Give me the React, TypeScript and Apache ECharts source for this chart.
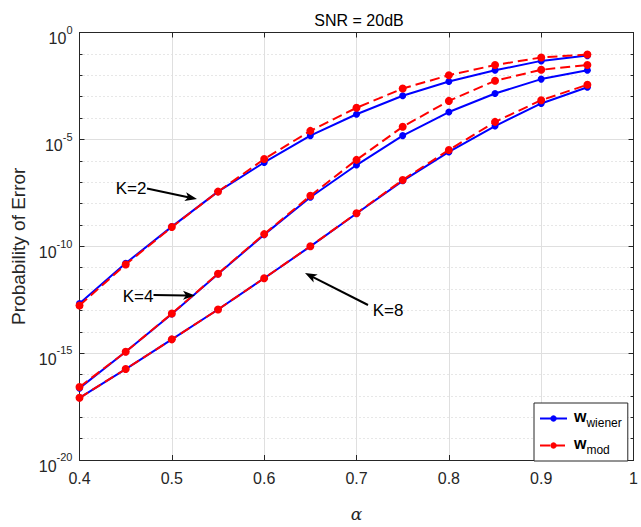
import React, { useEffect, useRef } from 'react';
import * as echarts from 'echarts';

// alpha values (x)
const alpha = [0.4, 0.45, 0.5, 0.55, 0.6, 0.65, 0.7, 0.75, 0.8, 0.85, 0.9, 0.95];
// Probability of error values
const k2Wiener = [2.1e-13, 1.6e-11, 8.3e-10, 3.6e-8, 8.3e-7, 1.5e-5, 1.5e-4, 1.1e-3, 5.1e-3, 1.7e-2, 4.7e-2, 8.3e-2];
const k2Mod = [1.7e-13, 1.4e-11, 7.9e-10, 3.6e-8, 1.2e-6, 2.5e-5, 3.0e-4, 2.4e-3, 1.0e-2, 3.0e-2, 6.8e-2, 9.3e-2];
const k4Wiener = [2.3e-17, 1.15e-15, 6.8e-14, 5.0e-12, 3.5e-10, 1.95e-8, 6.3e-7, 1.5e-5, 1.9e-4, 1.4e-3, 6.6e-3, 1.7e-2];
const k4Mod = [2.6e-17, 1.15e-15, 7.1e-14, 5.2e-12, 3.7e-10, 2.3e-8, 1.1e-6, 3.9e-5, 6.3e-4, 5.5e-3, 1.8e-2, 3.0e-2];
const k8Wiener = [8.1e-18, 1.8e-16, 4.4e-15, 1.1e-13, 3.2e-12, 9.8e-11, 3.4e-9, 1.15e-7, 2.6e-6, 4.2e-5, 4.8e-4, 2.75e-3];
const k8Mod = [8.1e-18, 1.8e-16, 4.4e-15, 1.1e-13, 3.2e-12, 1.0e-10, 3.5e-9, 1.26e-7, 3.2e-6, 6.6e-5, 6.8e-4, 3.6e-3];
// axis ticks
const xTicks = [0.4, 0.5, 0.6, 0.7, 0.8, 0.9, 1];
const yTickExponents = [-20, -15, -10, -5, 0];
const titleText = 'SNR = 20dB';
const yTitle = 'Probability of Error';
const xTitle = 'α';
const legendNames = ['wiener', 'mod'];
const annotations = ['K=2', 'K=4', 'K=8'];

const FONT = '"Liberation Sans", Arial, Helvetica, sans-serif';
const BLUE = '#0000ff';
const RED = '#ff0000';

function arrow(x1: number, y1: number, x2: number, y2: number) {
  const dx = x2 - x1, dy = y2 - y1;
  const len = Math.hypot(dx, dy);
  const ux = dx / len, uy = dy / len;
  const px = -uy, py = ux;
  const L = 12, W = 4.5, N = 3;
  const bx = x2 - ux * L, by = y2 - uy * L;
  const nx = x2 - ux * (L - N), ny = y2 - uy * (L - N);
  return [
    { type: 'line', shape: { x1, y1, x2: nx, y2: ny }, style: { stroke: '#000', lineWidth: 2 }, z: 100 },
    {
      type: 'polygon',
      shape: { points: [[x2, y2], [bx + px * W, by + py * W], [nx, ny], [bx - px * W, by - py * W]] },
      style: { fill: '#000' },
      z: 100,
    },
  ];
}

function toPoints(vals: number[]) {
  return alpha.map((a, i) => [a, Math.log10(vals[i])]);
}

export default function App() {
  const ref = useRef<HTMLDivElement>(null);
  useEffect(() => {
    if (!ref.current) return;
    const chart = echarts.init(ref.current, undefined, { renderer: 'svg' });
    const xMin = xTicks[0];
    const xMax = xTicks[xTicks.length - 1];
    const yMin = yTickExponents[0];
    const yMax = yTickExponents[yTickExponents.length - 1];
    const yStep = yTickExponents[1] - yTickExponents[0];

    const lineSeries = (name: string, vals: number[], color: string, dashed: boolean) => ({
      type: 'line',
      name,
      data: toPoints(vals),
      symbol: 'circle',
      symbolSize: dashed ? 8 : 7,
      itemStyle: { color },
      lineStyle: { color, width: 2, type: dashed ? [10, 5] : 'solid' },
      z: dashed ? 3 : 2,
    });

    const axisLineStyle = { color: '#262626', width: 1 };

    chart.setOption({
      animation: false,
      backgroundColor: '#fff',
      grid: { left: 79.5, right: 3, top: 32.5, bottom: 54, containLabel: false },
      xAxis: [
        {
          type: 'value',
          min: xMin,
          max: xMax,
          interval: 0.1,
          position: 'bottom',
          axisLine: { show: true, onZero: false, lineStyle: axisLineStyle },
          axisTick: { show: true, inside: true, length: 5, lineStyle: axisLineStyle },
          axisLabel: {
            show: true,
            fontFamily: FONT,
            fontSize: 16,
            color: '#262626',
            margin: 10,
            formatter: (v: number) => String(Math.round(v * 10) / 10),
          },
          splitLine: { show: true, lineStyle: { color: '#dfdfdf', width: 1 } },
          name: xTitle,
          nameLocation: 'middle',
          nameGap: 45,
          nameTextStyle: { fontFamily: '"DejaVu Serif", "Liberation Serif", serif', fontStyle: 'italic', fontSize: 17, color: '#262626' },
        },
        {
          type: 'value',
          min: xMin,
          max: xMax,
          interval: 0.1,
          position: 'top',
          axisLine: { show: true, onZero: false, lineStyle: axisLineStyle },
          axisTick: { show: true, inside: true, length: 5, lineStyle: axisLineStyle },
          axisLabel: { show: false },
          splitLine: { show: false },
        },
      ],
      yAxis: [
        {
          type: 'value',
          min: yMin,
          max: yMax,
          interval: yStep,
          position: 'left',
          axisLine: { show: true, onZero: false, lineStyle: axisLineStyle },
          axisTick: { show: true, inside: true, length: 5, lineStyle: axisLineStyle },
          minorTick: { show: true, splitNumber: 5, length: 3, lineStyle: axisLineStyle },
          minorSplitLine: { show: true, lineStyle: { color: '#cfcfcf', width: 1, type: [1, 3] } },
          splitLine: { show: true, lineStyle: { color: '#dfdfdf', width: 1 } },
          axisLabel: {
            show: true,
            margin: 7,
            padding: [6, 0, 0, 0],
            formatter: (v: number) => `{b|10}{s|${Math.round(v)}}`,
            rich: {
              b: { fontFamily: FONT, fontSize: 16, color: '#262626', lineHeight: 22.5, verticalAlign: 'bottom' },
              s: { fontFamily: FONT, fontSize: 11, color: '#262626', lineHeight: 11, verticalAlign: 'top' },
            },
          },
          name: yTitle,
          nameLocation: 'middle',
          nameGap: 52,
          nameRotate: 90,
          nameTextStyle: { fontFamily: FONT, fontSize: 19, color: '#262626' },
        },
        {
          type: 'value',
          min: yMin,
          max: yMax,
          interval: yStep,
          position: 'right',
          axisLine: { show: true, onZero: false, lineStyle: axisLineStyle },
          axisTick: { show: true, inside: true, length: 5, lineStyle: axisLineStyle },
          minorTick: { show: true, splitNumber: 5, length: 3, lineStyle: axisLineStyle },
          axisLabel: { show: false },
          splitLine: { show: false },
        },
      ],
      legend: {
        show: true,
        orient: 'vertical',
        left: 534,
        top: 403,
        data: legendNames,
        backgroundColor: '#fff',
        borderColor: '#262626',
        borderWidth: 1,
        borderRadius: 0,
        padding: [5, 6, 5, 5],
        itemWidth: 27,
        itemHeight: 8,
        itemGap: 6,
        formatter: (n: string) => `{w|w}{s|${n}}`,
        textStyle: {
          rich: {
            w: { fontFamily: FONT, fontSize: 16, fontWeight: 'bold', color: '#000', lineHeight: 16, padding: [0, 0, 0, 2], verticalAlign: 'top' },
            s: { fontFamily: FONT, fontSize: 12, color: '#000', lineHeight: 21, verticalAlign: 'bottom' },
          },
        },
      },
      series: [
        lineSeries(legendNames[0], k2Wiener, BLUE, false),
        lineSeries(legendNames[0], k4Wiener, BLUE, false),
        lineSeries(legendNames[0], k8Wiener, BLUE, false),
        lineSeries(legendNames[1], k2Mod, RED, true),
        lineSeries(legendNames[1], k4Mod, RED, true),
        lineSeries(legendNames[1], k8Mod, RED, true),
      ],
      graphic: [
        {
          type: 'text',
          x: 359,
          y: 20,
          style: { text: titleText, fontFamily: FONT, fontSize: 16, fill: '#000', align: 'center', verticalAlign: 'middle' },
        },
        {
          type: 'text',
          x: 131,
          y: 188,
          style: { text: annotations[0], fontFamily: FONT, fontSize: 17, fill: '#000', align: 'center', verticalAlign: 'middle' },
          z: 100,
        },
        ...arrow(147, 188.5, 197, 199),
        {
          type: 'text',
          x: 138,
          y: 296,
          style: { text: annotations[1], fontFamily: FONT, fontSize: 17, fill: '#000', align: 'center', verticalAlign: 'middle' },
          z: 100,
        },
        ...arrow(153.5, 295, 195, 295.5),
        {
          type: 'text',
          x: 388,
          y: 310,
          style: { text: annotations[2], fontFamily: FONT, fontSize: 17, fill: '#000', align: 'center', verticalAlign: 'middle' },
          z: 100,
        },
        ...arrow(368, 305, 305, 273),
      ],
    });
    return () => chart.dispose();
  }, []);
  return <div ref={ref} style={{ position: 'fixed', left: 0, top: 0, width: 641, height: 527, background: '#fff' }} />;
}
